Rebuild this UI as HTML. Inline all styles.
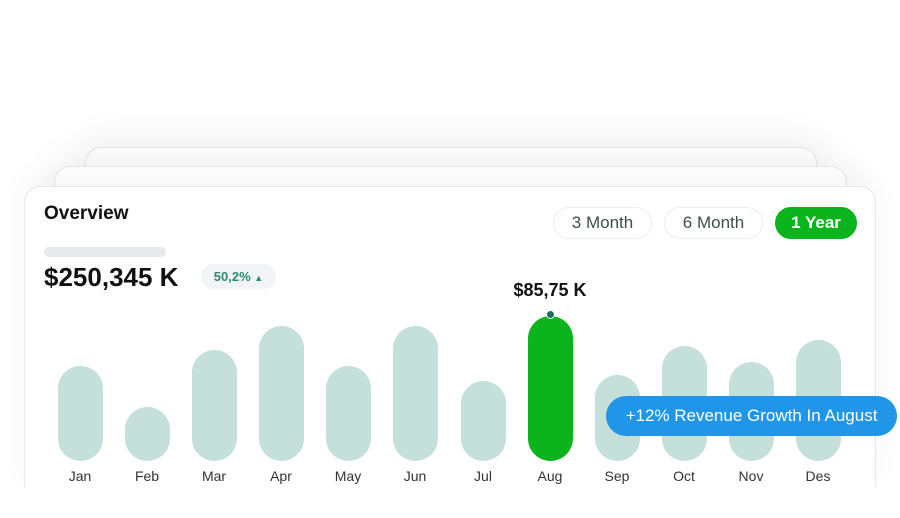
<!DOCTYPE html>
<html><head><style>
body{margin:0;width:900px;height:518px;background:#fff;position:relative;overflow:hidden;font-family:"Liberation Sans",sans-serif}
.c{position:absolute;background:#fff;border:1px solid #e6e6e6;border-bottom:none;border-radius:16px 16px 0 0;box-shadow:0 -10px 40px rgba(0,0,0,.05)}
.bar{position:absolute;width:45px;border-radius:23px;background:#c5dfda}
.lb{position:absolute;width:60px;text-align:center;font-size:14px;color:#333}
.pill{position:absolute;top:207px;height:30px;border:1px solid #eee;border-radius:16px;font-size:17px;color:#3d4f4a;text-align:center;line-height:30px}
</style></head><body>
<div class="c" style="left:85px;top:147px;width:730px;height:200px"></div>
<div class="c" style="left:54px;top:166px;width:791px;height:200px"></div>
<div class="c" style="left:24px;top:186px;width:850px;height:301px;overflow:hidden;box-shadow:0 -10px 30px rgba(0,0,0,.04)"></div>
<div style="position:absolute;left:0;top:487px;width:900px;height:31px;background:#fff"></div>
<div style="position:absolute;left:44px;top:203px;font-size:19px;font-weight:bold;color:#111">Overview</div>
<div style="position:absolute;left:44px;top:247px;width:122px;height:10px;border-radius:5px;background:#e8e9eb"></div>
<div style="position:absolute;left:44px;top:262px;font-size:26px;font-weight:bold;color:#111">$250,345 K</div>
<div style="position:absolute;left:201px;top:264px;width:75px;height:25px;border-radius:13px;background:#f2f5f8;color:#2e8a72;font-size:13px;font-weight:bold;line-height:25px;text-align:center">50,2% <span style="font-size:9px">▲</span></div>
<div class="pill" style="left:553px;width:97px">3 Month</div>
<div class="pill" style="left:664px;width:97px">6 Month</div>
<div class="pill" style="left:775px;width:80px;background:#0bb31d;border-color:#0bb31d;color:#fff;font-weight:bold">1 Year</div>
<div style="position:absolute;left:490px;width:120px;top:280px;text-align:center;font-size:18px;font-weight:bold;color:#111">$85,75 K</div>
<div class="bar" style="left:58px;top:366px;height:95px"></div>
<div class="bar" style="left:125px;top:407px;height:54px"></div>
<div class="bar" style="left:192px;top:350px;height:111px"></div>
<div class="bar" style="left:259px;top:326px;height:135px"></div>
<div class="bar" style="left:326px;top:366px;height:95px"></div>
<div class="bar" style="left:393px;top:326px;height:135px"></div>
<div class="bar" style="left:461px;top:381px;height:80px"></div>
<div class="bar" style="left:528px;top:316px;height:145px;background:#0bb31d"></div>
<div class="bar" style="left:595px;top:375px;height:86px"></div>
<div class="bar" style="left:662px;top:346px;height:115px"></div>
<div class="bar" style="left:729px;top:362px;height:99px"></div>
<div class="bar" style="left:796px;top:340px;height:121px"></div>
<div style="position:absolute;left:546px;top:310px;width:7px;height:7px;border-radius:50%;background:#1f6e5a;border:1px solid #fff"></div>
<div style="position:absolute;left:0;top:460px;width:900px;height:24px;overflow:hidden">
<div class="lb" style="left:50px;top:8px">Jan</div><div class="lb" style="left:117px;top:8px">Feb</div><div class="lb" style="left:184px;top:8px">Mar</div><div class="lb" style="left:251px;top:8px">Apr</div><div class="lb" style="left:318px;top:8px">May</div><div class="lb" style="left:385px;top:8px">Jun</div><div class="lb" style="left:453px;top:8px">Jul</div><div class="lb" style="left:520px;top:8px">Aug</div><div class="lb" style="left:587px;top:8px">Sep</div><div class="lb" style="left:654px;top:8px">Oct</div><div class="lb" style="left:721px;top:8px">Nov</div><div class="lb" style="left:788px;top:8px">Des</div>
</div>
<div style="position:absolute;left:606px;top:396px;width:291px;height:40px;border-radius:20px;background:#2196e9;color:#fff;font-size:17px;line-height:40px;text-align:center">+12% Revenue Growth In August</div>
</body></html>
